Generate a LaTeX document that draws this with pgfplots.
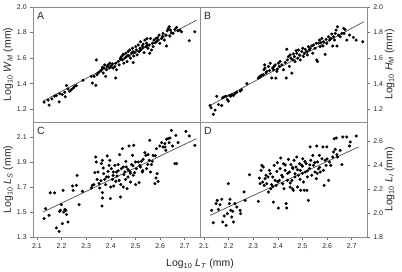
\documentclass[border=0pt]{standalone}
\usepackage{fontspec}
\setmainfont{Liberation Sans}
\usepackage{pgfplots}
\usepackage{pgfplotstable}
\pgfplotsset{compat=1.18}
\usepgfplotslibrary{groupplots}
\usetikzlibrary{calc}

% Log10 body measurements against log10 total length L_T
\pgfplotstableread{
x y
2.129 1.255
2.149 1.232
2.145 1.271
2.161 1.281
2.172 1.302
2.179 1.307
2.190 1.258
2.192 1.322
2.203 1.315
2.213 1.333
2.215 1.297
2.220 1.385
2.226 1.359
2.233 1.341
2.240 1.353
2.247 1.366
2.253 1.379
2.260 1.385
2.287 1.426
2.321 1.457
2.325 1.405
2.332 1.457
2.339 1.387
2.341 1.586
2.344 1.470
2.348 1.483
2.355 1.496
2.360 1.500
2.362 1.509
2.366 1.529
2.369 1.483
2.373 1.522
2.375 1.547
2.379 1.457
2.382 1.509
2.385 1.535
2.389 1.547
2.393 1.522
2.396 1.560
2.400 1.530
2.402 1.540
2.406 1.555
2.409 1.522
2.416 1.535
2.420 1.560
2.423 1.509
2.420 1.444
2.430 1.573
2.434 1.547
2.439 1.599
2.440 1.590
2.443 1.612
2.447 1.586
2.450 1.625
2.450 1.630
2.453 1.560
2.457 1.599
2.461 1.638
2.463 1.612
2.466 1.573
2.470 1.651
2.470 1.620
2.474 1.617
2.477 1.664
2.480 1.599
2.484 1.638
2.488 1.677
2.490 1.650
2.491 1.566
2.493 1.617
2.497 1.643
2.501 1.690
2.504 1.664
2.507 1.625
2.511 1.703
2.515 1.651
2.518 1.677
2.520 1.728
2.520 1.660
2.524 1.669
2.528 1.695
2.530 1.680
2.531 1.710
2.535 1.643
2.538 1.741
2.542 1.690
2.545 1.716
2.547 1.752
2.550 1.700
2.551 1.677
2.556 1.703
2.558 1.638
2.561 1.754
2.565 1.664
2.569 1.716
2.572 1.690
2.575 1.741
2.580 1.720
2.583 1.754
2.585 1.728
2.590 1.760
2.592 1.741
2.596 1.780
2.599 1.716
2.606 1.754
2.610 1.770
2.612 1.793
2.617 1.741
2.623 1.780
2.626 1.695
2.629 1.814
2.633 1.832
2.637 1.845
2.640 1.772
2.642 1.819
2.646 1.798
2.653 1.793
2.660 1.824
2.667 1.840
2.673 1.814
2.680 1.819
2.687 1.806
2.718 1.736
2.741 1.806
}\dataA

\pgfplotstableread{
x y
2.125 1.229
2.129 1.211
2.138 1.160
2.145 1.193
2.152 1.302
2.159 1.237
2.172 1.229
2.176 1.289
2.182 1.297
2.190 1.302
2.195 1.276
2.199 1.263
2.203 1.307
2.209 1.302
2.213 1.315
2.220 1.307
2.226 1.322
2.233 1.333
2.247 1.341
2.253 1.353
2.274 1.400
2.321 1.444
2.325 1.452
2.328 1.457
2.332 1.462
2.336 1.467
2.341 1.470
2.344 1.509
2.346 1.547
2.348 1.522
2.352 1.483
2.355 1.496
2.362 1.535
2.366 1.503
2.369 1.560
2.375 1.444
2.379 1.522
2.382 1.509
2.385 1.535
2.389 1.547
2.392 1.444
2.396 1.496
2.398 1.514
2.402 1.560
2.406 1.535
2.409 1.573
2.416 1.547
2.423 1.509
2.430 1.566
2.434 1.444
2.436 1.669
2.439 1.586
2.443 1.612
2.447 1.535
2.450 1.625
2.453 1.599
2.457 1.483
2.461 1.586
2.463 1.633
2.467 1.612
2.470 1.573
2.474 1.659
2.477 1.638
2.481 1.599
2.484 1.664
2.488 1.625
2.491 1.586
2.497 1.651
2.501 1.677
2.504 1.612
2.508 1.638
2.511 1.669
2.518 1.651
2.520 1.625
2.524 1.690
2.528 1.664
2.531 1.677
2.538 1.695
2.542 1.638
2.545 1.703
2.551 1.677
2.556 1.716
2.558 1.586
2.561 1.573
2.565 1.716
2.569 1.741
2.572 1.690
2.575 1.721
2.579 1.754
2.583 1.695
2.585 1.728
2.592 1.630
2.596 1.747
2.599 1.716
2.606 1.767
2.610 1.741
2.615 1.754
2.619 1.788
2.623 1.695
2.626 1.767
2.630 1.741
2.633 1.793
2.637 1.819
2.640 1.695
2.642 1.845
2.646 1.780
2.653 1.767
2.660 1.793
2.667 1.832
2.669 1.793
2.673 1.824
2.680 1.741
2.691 1.780
2.707 1.762
2.718 1.741
2.745 1.728
}\dataB

\pgfplotstableread{
x y
2.129 1.447
2.135 1.527
2.149 1.473
2.154 1.653
2.172 1.653
2.179 1.373
2.190 1.345
2.192 1.505
2.195 1.513
2.199 1.559
2.203 1.407
2.206 1.673
2.209 1.500
2.213 1.521
2.217 1.513
2.220 1.479
2.226 1.420
2.244 1.708
2.247 1.673
2.260 1.713
2.263 1.793
2.271 1.559
2.285 1.665
2.321 1.692
2.325 1.713
2.331 1.719
2.335 1.815
2.339 1.940
2.341 1.900
2.344 1.761
2.348 1.820
2.352 1.727
2.355 1.692
2.360 1.750
2.362 1.887
2.366 1.913
2.369 1.852
2.366 1.655
2.366 1.612
2.364 1.548
2.371 1.807
2.375 1.761
2.379 1.719
2.382 1.780
2.385 1.948
2.389 1.825
2.390 1.780
2.393 1.873
2.396 1.913
2.398 1.607
2.400 1.700
2.402 1.847
2.406 1.761
2.409 1.793
2.410 1.820
2.412 1.708
2.416 1.873
2.420 1.745
2.423 1.820
2.425 1.788
2.430 1.879
2.430 1.830
2.434 1.753
2.436 1.959
2.439 1.620
2.440 1.720
2.443 1.847
2.447 2.007
2.450 1.700
2.450 1.860
2.453 1.799
2.457 1.820
2.460 1.760
2.461 1.905
2.463 1.860
2.466 1.687
2.470 1.780
2.470 1.840
2.474 2.028
2.477 1.825
2.480 1.740
2.480 1.810
2.484 1.879
2.488 1.953
2.490 1.870
2.491 1.793
2.493 2.033
2.497 1.815
2.500 1.900
2.501 1.719
2.504 1.847
2.511 1.900
2.515 1.735
2.518 1.873
2.520 1.860
2.524 1.905
2.528 1.820
2.530 1.830
2.531 1.921
2.538 1.975
2.542 1.953
2.545 1.847
2.550 1.880
2.551 1.959
2.556 1.913
2.558 2.073
2.561 1.820
2.565 1.879
2.569 1.905
2.572 1.953
2.579 1.727
2.580 1.950
2.583 1.772
2.585 2.007
2.588 1.807
2.592 1.745
2.599 2.028
2.606 2.055
2.612 2.020
2.619 2.047
2.620 2.020
2.623 1.993
2.626 2.081
2.633 2.087
2.637 2.055
2.640 2.092
2.646 2.153
2.650 2.028
2.660 1.887
2.664 2.113
2.667 1.887
2.673 2.055
2.705 2.145
2.718 2.108
2.741 2.033
}\dataC

\pgfplotstableread{
x y
2.131 2.022
2.138 1.919
2.149 2.078
2.154 2.105
2.159 2.030
2.165 2.069
2.172 2.114
2.176 1.925
2.182 1.975
2.190 1.897
2.195 1.994
2.199 2.244
2.203 2.078
2.206 2.114
2.209 2.022
2.213 1.966
2.217 2.014
2.220 1.925
2.226 2.078
2.233 2.050
2.247 2.022
2.249 1.994
2.263 2.175
2.267 2.105
2.285 2.319
2.321 2.097
2.325 2.291
2.328 2.244
2.332 2.355
2.335 2.397
2.339 2.258
2.341 2.383
2.344 2.230
2.348 2.286
2.352 2.314
2.355 2.244
2.360 2.300
2.362 2.175
2.366 2.355
2.369 2.327
2.371 2.202
2.375 2.236
2.379 2.300
2.380 2.220
2.382 2.091
2.385 2.397
2.389 2.272
2.393 2.230
2.396 2.347
2.398 2.419
2.400 2.260
2.402 2.041
2.406 2.272
2.409 2.369
2.412 2.458
2.416 2.314
2.420 2.244
2.420 2.300
2.423 2.411
2.425 2.202
2.430 2.355
2.430 2.400
2.434 2.078
2.436 2.041
2.439 2.272
2.440 2.330
2.443 2.447
2.447 2.341
2.450 2.216
2.450 2.250
2.453 2.403
2.457 2.272
2.460 2.380
2.460 2.200
2.461 2.369
2.463 2.189
2.466 2.439
2.470 2.327
2.470 2.300
2.474 2.383
2.477 2.466
2.480 2.216
2.480 2.360
2.484 2.314
2.488 2.411
2.490 2.280
2.491 2.355
2.493 2.189
2.497 2.397
2.500 2.330
2.500 2.390
2.501 2.452
2.504 2.258
2.507 2.189
2.510 2.430
2.511 2.341
2.515 2.411
2.518 2.189
2.520 2.300
2.520 2.350
2.524 2.105
2.528 2.369
2.530 2.400
2.531 2.550
2.534 2.439
2.538 2.314
2.542 2.480
2.545 2.397
2.550 2.420
2.551 2.341
2.556 2.286
2.558 2.558
2.560 2.330
2.561 2.425
2.565 2.369
2.569 2.480
2.570 2.380
2.572 2.341
2.579 2.452
2.583 2.550
2.585 2.355
2.588 2.230
2.592 2.439
2.596 2.397
2.599 2.550
2.600 2.450
2.606 2.272
2.610 2.425
2.615 2.397
2.623 2.466
2.626 2.508
2.629 2.619
2.633 2.530
2.637 2.625
2.640 2.486
2.642 2.466
2.653 2.522
2.660 2.403
2.664 2.633
2.680 2.633
2.691 2.558
2.694 2.591
2.718 2.641
}\dataD

\pgfplotsset{
  panel/.style={
    scale only axis, width=167bp, height=115bp,
    xmin=2.084, xmax=2.762,
    axis line style={black!45, line width=0.8bp},
    tick style={black!55, line width=0.6bp},
    major tick length=2.8bp,
    tick align=outside,
    ticklabel style={font=\fontsize{7}{8}\selectfont, text=black!85},
    /pgf/number format/assume math mode=true,
    yticklabel style={/pgf/number format/.cd, fixed, fixed zerofill, precision=1},
    xticklabel style={/pgf/number format/.cd, fixed, fixed zerofill, precision=1},
    label style={font=\fontsize{10.5}{12}\selectfont, text=black!85},
    xtick={2.1,2.2,2.3,2.4,2.5,2.6,2.7},
  },
  pts/.style={only marks, mark=*, mark size=1.35bp, black},
  fit/.style={no marks, black!70, line width=0.7bp},
  leftlab/.style={ytick pos=left, ylabel style={at={(rel axis cs:-0.148,0.5)}, anchor=center}},
  rightlab/.style={ytick pos=right, yticklabel pos=right, ylabel style={at={(rel axis cs:1.135,0.5)}, anchor=center, rotate=0}},
}
\newcommand{\panellabel}[1]{\node[anchor=north west, inner sep=0pt, font=\fontsize{10.5}{12}\selectfont, text=black!85] at (rel axis cs:0,1) [xshift=4bp, yshift=-5bp] {#1};}

\begin{document}
\begin{tikzpicture}
\begin{groupplot}[group style={group size=2 by 2, horizontal sep=0pt, vertical sep=0pt}, panel]
% A: W_M
\nextgroupplot[leftlab, ymin=1.1, ymax=2.0, ytick={1.2,1.4,1.6,1.8,2.0}, xtick=\empty,
  ylabel={Log\textsubscript{10} \textit{W}\textsubscript{\textit{M}} (mm)}]
\addplot[fit] coordinates {(2.125,1.263) (2.748,1.897)};
\addplot[pts] table {\dataA};
\panellabel{A}
% B: H_M
\nextgroupplot[rightlab, ymin=1.1, ymax=2.0, ytick={1.2,1.4,1.6,1.8,2.0}, xtick=\empty,
  ylabel={Log\textsubscript{10} \textit{H}\textsubscript{\textit{M}} (mm)}]
\addplot[fit] coordinates {(2.125,1.229) (2.748,1.884)};
\addplot[pts] table {\dataB};
\panellabel{B}
% C: L_S
\nextgroupplot[leftlab, ymin=1.3, ymax=2.22, ytick={1.3,1.5,1.7,1.9,2.1}, xtick pos=bottom,
  ylabel={Log\textsubscript{10} \textit{L}\textsubscript{\textit{S}} (mm)},
  xlabel={Log\textsubscript{10} \textit{L}\textsubscript{\textit{T}} (mm)},
  xlabel style={at={(rel axis cs:1,-0.261)}, anchor=base}]
\addplot[fit] coordinates {(2.125,1.500) (2.748,2.087)};
\addplot[pts] table {\dataC};
\panellabel{C}
% D: L_I
\nextgroupplot[rightlab, ymin=1.8, ymax=2.758, ytick={1.8,2.0,2.2,2.4,2.6}, xtick pos=bottom,
  ylabel={Log\textsubscript{10} \textit{L}\textsubscript{\textit{I}} (mm)}]
\addplot[fit] coordinates {(2.125,1.980) (2.728,2.550)};
\addplot[pts] table {\dataD};
\panellabel{D}
\end{groupplot}
\pgfresetboundingbox
\path[use as bounding box] ($(group c1r2.south west)+(-33bp,-35bp)$) rectangle ($(group c2r1.north east)+(35bp,7bp)$);
\end{tikzpicture}
\end{document}
